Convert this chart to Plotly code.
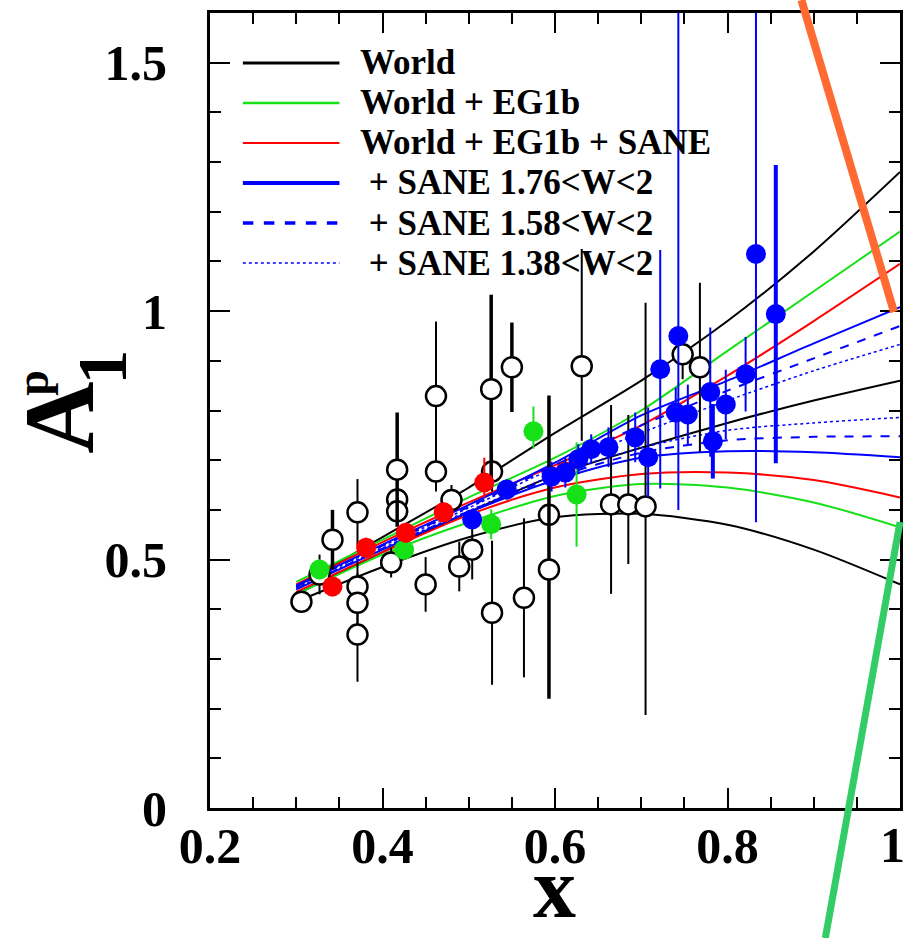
import plotly.graph_objects as go

# ---------------- data ----------------
curve_x = [0.30, 0.40, 0.50, 0.60, 0.70, 0.80, 0.90, 1.00]
world_hi = [0.445, 0.545, 0.645, 0.755, 0.860, 0.980, 1.120, 1.280]
world_mid = [0.430, 0.515, 0.595, 0.670, 0.725, 0.775, 0.820, 0.860]
world_lo = [0.415, 0.485, 0.545, 0.585, 0.592, 0.570, 0.520, 0.450]
eg1b_hi = [0.455, 0.540, 0.625, 0.705, 0.800, 0.920, 1.040, 1.160]
eg1b_lo = [0.430, 0.510, 0.575, 0.628, 0.652, 0.645, 0.615, 0.565]
sane_hi = [0.450, 0.535, 0.615, 0.690, 0.770, 0.870, 0.980, 1.095]
sane_lo = [0.435, 0.515, 0.590, 0.645, 0.672, 0.675, 0.660, 0.625]
w176_hi = [0.448, 0.530, 0.610, 0.695, 0.790, 0.860, 0.935, 1.008]
w176_lo = [0.440, 0.520, 0.595, 0.660, 0.705, 0.718, 0.716, 0.706]
w158_hi = [0.447, 0.528, 0.606, 0.690, 0.770, 0.840, 0.905, 0.970]
w158_lo = [0.441, 0.522, 0.597, 0.665, 0.715, 0.740, 0.747, 0.748]
w138_hi = [0.446, 0.527, 0.604, 0.685, 0.755, 0.820, 0.880, 0.933]
w138_lo = [0.442, 0.523, 0.598, 0.670, 0.725, 0.760, 0.775, 0.786]

# world data, thin error bars
wthin_x = [0.306, 0.327, 0.371, 0.371, 0.371, 0.371, 0.417, 0.417, 0.410, 0.462, 0.462, 0.450,
           0.480, 0.489, 0.504, 0.527, 0.527, 0.564, 0.593, 0.631, 0.665, 0.685, 0.705, 0.748, 0.768]
wthin_y = [0.415, 0.470, 0.595, 0.446, 0.413, 0.349, 0.621, 0.597, 0.494, 0.829, 0.677, 0.450,
           0.620, 0.486, 0.520, 0.677, 0.393, 0.423, 0.590, 0.889, 0.611, 0.611, 0.607, 0.913, 0.887]
wthin_ep = [0.020, 0.040, 0.067, 0.050, 0.060, 0.095, 0.030, 0.030, 0.030, 0.150, 0.040, 0.055,
            0.030, 0.050, 0.060, 0.040, 0.145, 0.160, 0.040, 0.236, 0.200, 0.180, 0.410, 0.050, 0.170]
wthin_em = [0.020, 0.040, 0.067, 0.050, 0.060, 0.095, 0.030, 0.030, 0.030, 0.150, 0.040, 0.055,
            0.030, 0.050, 0.060, 0.040, 0.145, 0.160, 0.040, 0.150, 0.180, 0.120, 0.420, 0.050, 0.170]
# world data, thick error bars
wthick_x = [0.342, 0.417, 0.526, 0.550, 0.593]
wthick_y = [0.540, 0.681, 0.843, 0.887, 0.480]
wthick_ep = [0.060, 0.115, 0.190, 0.090, 0.350]
wthick_em = [0.060, 0.115, 0.190, 0.090, 0.260]

eg1b_x = [0.327, 0.425, 0.526, 0.575, 0.625]
eg1b_y = [0.480, 0.520, 0.571, 0.758, 0.631]
eg1b_ep = [0.020, 0.020, 0.030, 0.050, 0.105]
eg1b_em = [0.020, 0.020, 0.030, 0.035, 0.105]

red_x = [0.342, 0.381, 0.427, 0.471, 0.518, 0.612]
red_y = [0.446, 0.524, 0.554, 0.595, 0.655, 0.677]
red_ep = [0.020, 0.020, 0.020, 0.020, 0.050, 0.020]
red_em = [0.020, 0.020, 0.020, 0.020, 0.030, 0.020]

blue_x = [0.504, 0.544, 0.596, 0.612, 0.627, 0.642, 0.662, 0.693, 0.708, 0.722, 0.743,
          0.740, 0.754, 0.780, 0.798, 0.821, 0.833]
blue_y = [0.581, 0.641, 0.667, 0.675, 0.702, 0.722, 0.726, 0.746, 0.706, 0.883, 0.950,
          0.796, 0.792, 0.837, 0.812, 0.873, 1.115]
blue_ep = [0.020, 0.020, 0.030, 0.030, 0.030, 0.030, 0.040, 0.050, 0.100, 0.240, 0.650,
           0.050, 0.060, 0.130, 0.070, 0.075, 0.600]
blue_em = [0.020, 0.020, 0.030, 0.030, 0.030, 0.030, 0.040, 0.050, 0.080, 0.240, 0.350,
           0.050, 0.060, 0.130, 0.070, 0.075, 0.540]
bluethick_x = [0.783, 0.856]
bluethick_y = [0.738, 0.994]
bluethick_e = [0.075, 0.300]

legend_labels = ["World", "World + EG1b", "World + EG1b + SANE",
                 " + SANE 1.76&lt;W&lt;2", " + SANE 1.58&lt;W&lt;2", " + SANE 1.38&lt;W&lt;2"]

xtick_vals = [0.2, 0.4, 0.6, 0.8, 1.0]
xtick_text = ["0.2", "0.4", "0.6", "0.8", "1"]
ytick_vals = [0, 0.5, 1.0, 1.5]
ytick_text = ["0", "0.5", "1", "1.5"]

# ---------------- figure ----------------
W, H = 912, 938
L, R, T, B = 210, 9, 13, 130
PW, PH = W - L - R, H - T - B


def px(x):
    """page pixel x -> paper"""
    return (x - L) / PW


def py(y):
    """page pixel y -> paper"""
    return (H - B - y) / PH


BLACK = "#000000"
GREEN = "#16e016"
RED = "#ff0000"
BLUE = "#0000ff"
SERIF = "Liberation Serif"
TICKFONT = dict(family=SERIF, size=50, color="black", weight="bold")

fig = go.Figure()

curves = [
    (world_hi, BLACK, 2, "solid"), (world_mid, BLACK, 2, "solid"), (world_lo, BLACK, 2, "solid"),
    (eg1b_hi, GREEN, 2, "solid"), (eg1b_lo, GREEN, 2, "solid"),
    (sane_hi, RED, 2, "solid"), (sane_lo, RED, 2, "solid"),
    (w176_hi, BLUE, 2, "solid"), (w176_lo, BLUE, 2, "solid"),
    (w158_hi, BLUE, 2, "dash"), (w158_lo, BLUE, 2, "dash"),
    (w138_hi, BLUE, 1.5, "dot"), (w138_lo, BLUE, 1.5, "dot"),
]
for ys, c, w, d in curves:
    fig.add_trace(go.Scatter(x=curve_x, y=ys, mode="lines",
                             line=dict(color=c, width=w, dash=d, shape="spline", smoothing=0.8),
                             hoverinfo="skip"))


def pts(x, y, ep, em, color, fill, size, lw, thick):
    fig.add_trace(go.Scatter(
        x=x, y=y, mode="markers",
        marker=dict(symbol="circle", size=size, color=fill, line=dict(color=color, width=lw)),
        error_y=dict(type="data", array=ep, arrayminus=em, width=0, thickness=thick, color=color),
    ))


pts(wthin_x, wthin_y, wthin_ep, wthin_em, BLACK, "white", 20, 2.5, 2)
pts(wthick_x, wthick_y, wthick_ep, wthick_em, BLACK, "white", 20, 2.5, 3.5)
pts(eg1b_x, eg1b_y, eg1b_ep, eg1b_em, GREEN, GREEN, 20, 0, 2)
pts(red_x, red_y, red_ep, red_em, RED, RED, 20, 0, 2)
pts(blue_x, blue_y, blue_ep, blue_em, BLUE, BLUE, 20, 0, 2)
pts(bluethick_x, bluethick_y, bluethick_e, bluethick_e, BLUE, BLUE, 20, 0, 4)

shapes = []
annotations = []

# legend (drawn in paper space)
leg_styles = [(BLACK, 3, "solid"), (GREEN, 2.5, "solid"), (RED, 2, "solid"),
              (BLUE, 4, "solid"), (BLUE, 3.5, "dash"), (BLUE, 1.5, "dot")]
for i, (lab, (c, w, d)) in enumerate(zip(legend_labels, leg_styles)):
    yy = 63 + 40 * i
    shapes.append(dict(type="line", xref="paper", yref="paper",
                       x0=px(243), x1=px(340), y0=py(yy), y1=py(yy),
                       line=dict(color=c, width=w, dash=d)))
    annotations.append(dict(xref="paper", yref="paper", x=px(359), y=py(yy),
                            xanchor="left", yanchor="middle", showarrow=False,
                            text=lab, font=dict(family=SERIF, size=35, color="black", weight="bold")))

# overlay strokes
shapes.append(dict(type="line", xref="paper", yref="paper",
                   x0=px(804), y0=py(0), x1=px(897), y1=py(312),
                   line=dict(color="#ff6a33", width=8)))
shapes.append(dict(type="line", xref="paper", yref="paper",
                   x0=px(903), y0=py(522), x1=px(828), y1=py(938),
                   line=dict(color="#33cc66", width=7)))

# last x tick label, kept inside the page edge
annotations.append(dict(xref="paper", yref="paper", x=px(910), y=py(845),
                        xanchor="right", yanchor="middle", showarrow=False,
                        text=xtick_text[-1], font=TICKFONT))

# axis titles
annotations.append(dict(xref="paper", yref="paper", x=px(556), y=py(938),
                        xanchor="center", yanchor="bottom", showarrow=False,
                        text="x", font=dict(family=SERIF, size=86, color="black", weight="bold")))
annotations.append(dict(xref="paper", yref="paper", x=px(58), y=py(418),
                        xanchor="center", yanchor="middle", showarrow=False, textangle=-90,
                        text="A", font=dict(family=SERIF, size=100, color="black", weight="bold")))
annotations.append(dict(xref="paper", yref="paper", x=px(31), y=py(383),
                        xanchor="center", yanchor="middle", showarrow=False, textangle=-90,
                        text="p", font=dict(family=SERIF, size=46, color="black", weight="bold")))
annotations.append(dict(xref="paper", yref="paper", x=px(102), y=py(367),
                        xanchor="center", yanchor="middle", showarrow=False, textangle=-90,
                        text="1", font=dict(family=SERIF, size=70, color="black", weight="bold")))

axis_common = dict(showline=True, linecolor="black", linewidth=3, mirror="allticks",
                   ticks="inside", ticklen=20, tickwidth=2, tickcolor="black",
                   showgrid=False, zeroline=False, tickfont=TICKFONT)

fig.update_layout(
    width=W, height=H, margin=dict(l=L, r=R, t=T, b=B),
    paper_bgcolor="white", plot_bgcolor="white", showlegend=False,
    xaxis=dict(range=[0.2, 1.0], tickvals=xtick_vals, ticktext=xtick_text[:-1] + [""],
               minor=dict(dtick=0.05, ticks="inside", ticklen=11, tickwidth=2, tickcolor="black"),
               ticklabelstandoff=-8, **axis_common),
    yaxis=dict(range=[0, 1.6], tickvals=ytick_vals, ticktext=ytick_text,
               minor=dict(dtick=0.1, ticks="inside", ticklen=11, tickwidth=2, tickcolor="black"),
               ticklabelstandoff=30, **axis_common),
    shapes=shapes, annotations=annotations,
)

fig.write_html("out.html", config={"displayModeBar": False},
               post_script="document.body.style.margin='0';document.body.style.overflow='hidden';")
